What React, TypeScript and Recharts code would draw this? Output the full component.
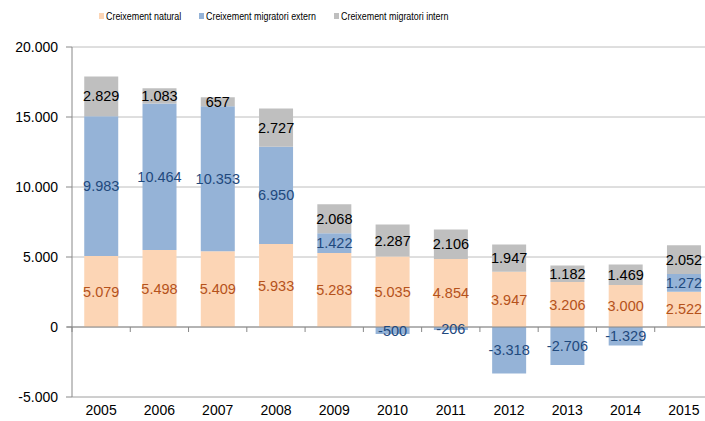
import React from "react";
import {
	Bar,
	BarChart,
	CartesianGrid,
	LabelList,
	Legend,
	ReferenceLine,
	XAxis,
	YAxis,
} from "recharts";

const anys = ["2005", "2006", "2007", "2008", "2009", "2010", "2011", "2012", "2013", "2014", "2015"];
const natural = [5079, 5498, 5409, 5933, 5283, 5035, 4854, 3947, 3206, 3000, 2522];
const extern = [9983, 10464, 10353, 6950, 1422, -500, -206, -3318, -2706, -1329, 1272];
const intern = [2829, 1083, 657, 2727, 2068, 2287, 2106, 1947, 1182, 1469, 2052];
const yTicks = [-5000, 0, 5000, 10000, 15000, 20000];

const data = anys.map((any, i) => ({
	any,
	natural: natural[i],
	extern: extern[i],
	intern: intern[i],
}));

const series = [
	{ key: "natural", name: "Creixement natural", color: "#FCD5B5", label: "#B5521B" },
	{ key: "extern", name: "Creixement migratori extern", color: "#95B3D7", label: "#1F497D" },
	{ key: "intern", name: "Creixement migratori intern", color: "#BFBFBF", label: "#000000" },
];

const FONT = "'Liberation Sans', Arial, sans-serif";

// punt com a separador de milers
function fmt(v: any) {
	const n = Number(v);
	const s = Math.abs(n).toString().replace(/\B(?=(\d{3})+(?!\d))/g, ".");
	return (n < 0 ? "-" : "") + s;
}

function LegendContent() {
	const offsets = [99, 199, 334];
	return (
		<div style={{ position: "relative", height: 47 }}>
			{series.map((s, i) => (
				<div
					key={s.key}
					style={{
						position: "absolute",
						left: offsets[i],
						top: 10,
						display: "flex",
						alignItems: "center",
						fontFamily: FONT,
						fontSize: 11,
						color: "#000",
						whiteSpace: "nowrap",
					}}
				>
					<span style={{ width: 5, height: 6, background: s.color, marginRight: 2, display: "inline-block" }} />
					<span style={{ display: "inline-block", transform: "scaleX(0.81)", transformOrigin: "left center" }}>
						{s.name}
					</span>
				</div>
			))}
		</div>
	);
}

function ZeroLine(props: any) {
	const { x1, y1, x2 } = props;
	if (x1 == null) return null;
	const step = (x2 - x1) / anys.length;
	const ticks = [];
	for (let i = 0; i <= anys.length; i++) {
		const x = x1 + i * step;
		ticks.push(<line key={i} x1={x} x2={x} y1={y1} y2={y1 + 5} stroke="#888" />);
	}
	return (
		<g>
			<line x1={x1 - 5} x2={x2} y1={y1} y2={y1} stroke="#888" />
			{ticks}
		</g>
	);
}

export default function App() {
	return (
		<div style={{ position: "absolute", left: 0, top: 0, width: 705, height: 421, overflow: "hidden", background: "#fff" }}>
			<BarChart
				width={716}
				height={421}
				data={data}
				stackOffset="sign"
				barCategoryGap="21%"
				margin={{ top: 0, right: 3, bottom: 0, left: 0 }}
			>
				<Legend verticalAlign="top" align="left" content={<LegendContent />} />
				<CartesianGrid vertical={false} stroke="#BEBEBE" />
				<XAxis
					dataKey="any"
					height={24}
					tickLine={false}
					tickSize={0}
					tickMargin={8}
					axisLine={{ stroke: "#BEBEBE" }}
					tick={{ fill: "#000", fontSize: 14, fontFamily: FONT }}
					interval={0}
				/>
				<YAxis
					width={72}
					domain={[-5000, 20000]}
					ticks={yTicks}
					tickFormatter={fmt}
					tickSize={6}
					tickMargin={8}
					axisLine={{ stroke: "#888" }}
					tickLine={{ stroke: "#888" }}
					tick={{ fill: "#000", fontSize: 14, fontFamily: FONT }}
				/>
				{series.map((s) => (
					<Bar key={s.key} dataKey={s.key} name={s.name} stackId="a" fill={s.color} isAnimationActive={false}>
						<LabelList
							dataKey={s.key}
							position="center"
							formatter={fmt}
							fill={s.label}
							style={{ fontSize: 14.5, fontFamily: FONT }}
						/>
					</Bar>
				))}
				<ReferenceLine y={0} shape={<ZeroLine />} />
			</BarChart>
		</div>
	);
}
